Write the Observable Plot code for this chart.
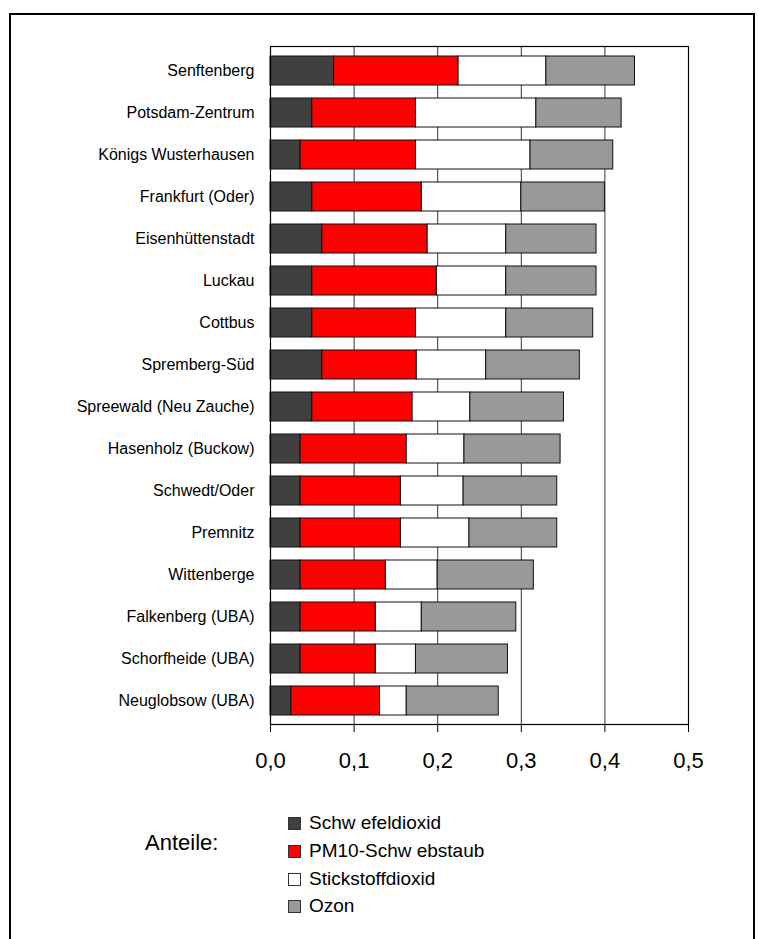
<!DOCTYPE html>
<html>
<head>
<meta charset="utf-8">
<script src="https://cdn.jsdelivr.net/npm/d3@7"></script>
<script src="https://cdn.jsdelivr.net/npm/@observablehq/plot@0.6"></script>
<style>
  html, body { margin: 0; padding: 0; background: #fff; }
  body { width: 758px; height: 939px; overflow: hidden; position: relative; font-family: "Liberation Sans", Arial, sans-serif; }
  #border { position: absolute; left: 9px; top: 13px; width: 746px; height: 950px; border: 2px solid #000; box-sizing: border-box; }
  #chart { position: absolute; left: 0; top: 0; }
  .lg { position: absolute; color: #000; white-space: nowrap; }
  .sw { position: absolute; width: 13px; height: 13px; border: 1px solid #333; box-sizing: border-box; }
</style>
</head>
<body>
<div id="border"></div>
<div id="chart"></div>
<div id="legend"></div>
<script>
const stations = [
  "Senftenberg", "Potsdam-Zentrum", "Königs Wusterhausen", "Frankfurt (Oder)",
  "Eisenhüttenstadt", "Luckau", "Cottbus", "Spremberg-Süd",
  "Spreewald (Neu Zauche)", "Hasenholz (Buckow)", "Schwedt/Oder", "Premnitz",
  "Wittenberge", "Falkenberg (UBA)", "Schorfheide (UBA)", "Neuglobsow (UBA)"
];
const seriesNames = ["Schwefeldioxid", "PM10-Schwebstaub", "Stickstoffdioxid", "Ozon"];
const seriesLegend = ["Schw efeldioxid", "PM10-Schw ebstaub", "Stickstoffdioxid", "Ozon"];
const seriesColors = ["#404040", "#ff0000", "#ffffff", "#999999"];
const so2  = [0.076, 0.050, 0.036, 0.050, 0.062, 0.050, 0.050, 0.062, 0.050, 0.036, 0.036, 0.036, 0.036, 0.036, 0.036, 0.025];
const pm10 = [0.149, 0.124, 0.138, 0.131, 0.126, 0.149, 0.124, 0.113, 0.120, 0.127, 0.120, 0.120, 0.102, 0.090, 0.090, 0.106];
const no2  = [0.105, 0.144, 0.137, 0.119, 0.094, 0.083, 0.108, 0.083, 0.069, 0.069, 0.075, 0.082, 0.062, 0.055, 0.048, 0.032];
const ozon = [0.106, 0.102, 0.099, 0.100, 0.108, 0.108, 0.104, 0.112, 0.112, 0.115, 0.112, 0.105, 0.115, 0.113, 0.110, 0.110];
const xTicks = [0, 0.1, 0.2, 0.3, 0.4, 0.5];
const gridValues = [0.1, 0.2, 0.3, 0.4];
const legendTitle = "Anteile:";

const seriesValues = [so2, pm10, no2, ozon];
const data = [];
stations.forEach((s, i) => {
  seriesNames.forEach((n, j) => {
    data.push({station: s, series: n, value: seriesValues[j][i]});
  });
});

const fmt = d => d.toFixed(1).replace(".", ",");

const chart = Plot.plot({
  width: 758,
  height: 790,
  marginLeft: 270,
  marginRight: 70,
  marginTop: 46,
  marginBottom: 66,
  style: {fontFamily: "'Liberation Sans', Arial, sans-serif", background: "transparent", color: "#000"},
  x: {domain: [0, 0.5], axis: null},
  y: {domain: stations, paddingInner: 0.32, paddingOuter: 0.14, axis: null},
  color: {domain: seriesNames, range: seriesColors},
  marks: [
    Plot.ruleX(gridValues, {stroke: "#000", strokeWidth: 1, strokeOpacity: 0.8}),
    Plot.barX(data, Plot.stackX({x: "value", y: "station", fill: "series", stroke: "#111", strokeWidth: 1})),
    Plot.frame({stroke: "#000", strokeWidth: 1.2}),
    Plot.axisX({ticks: xTicks, tickFormat: fmt, tickSize: 8, tickPadding: 20, fontSize: 22, stroke: "#000", label: null}),
    Plot.axisY({tickSize: 0, tickPadding: 16, fontSize: 16, label: null, style: {letterSpacing: "0.2px"}})
  ]
});
document.getElementById("chart").appendChild(chart);

const lg = document.getElementById("legend");
const title = document.createElement("div");
title.className = "lg";
title.textContent = legendTitle;
title.style.cssText = "left:145px; top:830px; font-size:22px; line-height:26px;";
lg.appendChild(title);
const rowY = [823, 851, 879, 906];
seriesLegend.forEach((name, i) => {
  const sw = document.createElement("div");
  sw.className = "sw";
  sw.style.left = "288px";
  sw.style.top = (rowY[i] - 6) + "px";
  sw.style.background = seriesColors[i];
  lg.appendChild(sw);
  const t = document.createElement("div");
  t.className = "lg";
  t.textContent = name;
  t.style.cssText = `left:309px; top:${rowY[i] - 12}px; font-size:19px; line-height:24px;`;
  lg.appendChild(t);
});
</script>
</body>
</html>
